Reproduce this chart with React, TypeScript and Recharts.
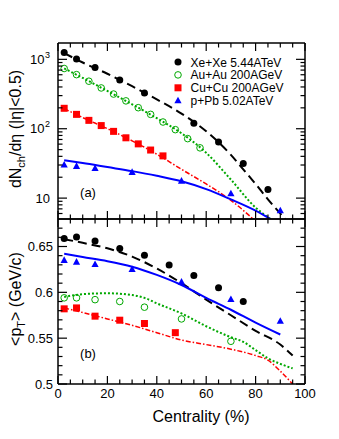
import React from 'react';
import { ComposedChart, Line, Scatter, XAxis, YAxis } from 'recharts';

const FONT = "'Liberation Sans', Arial, Helvetica, sans-serif";
const BLACK = '#000000';
const GREEN = '#00a800';
const RED = '#ff0000';
const BLUE = '#0000ff';

/* ---------------- panel (a): dNch/deta ---------------- */

const xeMultX = [2.5, 7.5, 15, 25, 35, 55, 65, 75, 85];
const xeMultY = [1250, 1010, 765, 505, 327, 120, 64.5, 31.6, 13.3];
const auMultX = [2.5, 7.5, 12.5, 17.5, 22.5, 27.5, 32.5, 37.5, 42.5, 47.5, 52.5, 57.5];
const auMultY = [738, 602, 484, 387, 316, 252, 201, 161, 125, 97, 72, 53];
const cuMultX = [2.5, 7.5, 12.5, 17.5, 22.5, 27.5, 32.5, 37.5, 42.5];
const cuMultY = [197, 161, 132, 111, 91.6, 74, 60.5, 49.3, 40.6];
const ppbMultX = [2.5, 7.5, 15, 30, 50, 70, 90];
const ppbMultY = [30, 28.7, 26.8, 23.5, 17.6, 11.6, 6.6];

const xeMultLineX = [2.5, 10, 20, 30, 40, 50, 60, 70, 75, 80, 85, 92];
const xeMultLineY = [1230, 900, 620, 410, 265, 165, 92, 42, 26, 16, 9.6, 5];
const auMultLineX = [2.5, 10, 20, 30, 40, 50, 60, 70, 80, 86];
const auMultLineY = [740, 540, 350, 225, 142, 86, 45, 18.5, 7.3, 5];
const cuMultLineX = [2.5, 10, 20, 30, 40, 50, 60, 70, 79];
const cuMultLineY = [195, 145, 100, 67, 43, 26, 16, 9.3, 5];
const ppbMultLineX = [2.5, 10, 20, 30, 40, 50, 60, 70, 80, 86];
const ppbMultLineY = [35, 32, 28, 24.5, 21, 17.5, 13.5, 9.6, 6.6, 5];

/* ---------------- panel (b): <pT> ---------------- */

const xePtX = [2.5, 7.5, 15, 25, 35, 45, 55, 65, 75];
const xePtY = [0.6586, 0.6604, 0.656, 0.6477, 0.6404, 0.6298, 0.6185, 0.605, 0.59];
const auPtX = [2.5, 7.5, 15, 25, 35, 50, 70];
const auPtY = [0.594, 0.594, 0.592, 0.59, 0.5838, 0.571, 0.5466];
const cuPtX = [2.5, 7.5, 15, 25, 35, 47.5];
const cuPtY = [0.582, 0.583, 0.574, 0.5696, 0.566, 0.556];
const ppbPtX = [2.5, 7.5, 15, 30, 50, 70, 90];
const ppbPtY = [0.6349, 0.633, 0.6305, 0.625, 0.6112, 0.5922, 0.5685];

const xePtLineX = [2.5, 10, 20, 30, 40, 50, 60, 70, 80, 90, 95];
const xePtLineY = [0.658, 0.654, 0.648, 0.639, 0.626, 0.61, 0.592, 0.575, 0.558, 0.543, 0.531];
const auPtLineX = [2.5, 10, 20, 30, 35, 40, 50, 60, 70, 75, 80, 85, 90, 95];
const auPtLineY = [0.595, 0.598, 0.599, 0.597, 0.594, 0.588, 0.577, 0.563, 0.551, 0.546, 0.537, 0.528, 0.522, 0.517];
const cuPtLineX = [2.5, 10, 20, 30, 40, 50, 60, 70, 80, 85, 90, 95];
const cuPtLineY = [0.583, 0.578, 0.571, 0.564, 0.556, 0.548, 0.543, 0.538, 0.531, 0.526, 0.514, 0.5];
const ppbPtLineX = [2.5, 10, 20, 30, 40, 50, 60, 70, 80, 90];
const ppbPtLineY = [0.642, 0.6385, 0.634, 0.628, 0.619, 0.608, 0.594, 0.581, 0.567, 0.554];

/* ---------------- ticks ---------------- */

const xTicks = [0, 5, 10, 15, 20, 25, 30, 35, 40, 45, 50, 55, 60, 65, 70, 75, 80, 85, 90, 95, 100];
const xLabels = [0, 20, 40, 60, 80, 100];
const logTicks = [6, 7, 8, 9, 10, 20, 30, 40, 50, 60, 70, 80, 90, 100, 200, 300, 400, 500, 600, 700, 800, 900, 1000];
const logLabels = [10, 100, 1000];
const ptTicks = [0.5, 0.51, 0.52, 0.53, 0.54, 0.55, 0.56, 0.57, 0.58, 0.59, 0.6, 0.61, 0.62, 0.63, 0.64, 0.65, 0.66, 0.67];
const ptLabels = [0.5, 0.55, 0.6, 0.65];

const legendItems = [
  { name: 'Xe+Xe 5.44ATeV', color: BLACK, shape: 'dot' },
  { name: 'Au+Au 200AGeV', color: GREEN, shape: 'ring' },
  { name: 'Cu+Cu 200AGeV', color: RED, shape: 'square' },
  { name: 'p+Pb 5.02ATeV', color: BLUE, shape: 'tri' },
];

const pts = (xs: number[], ys: number[]) => xs.map((x, i) => ({ x, y: ys[i] }));
const near = (a: number[], v: number) => a.some((t) => Math.abs(t - v) < 1e-6);

/* ---------------- markers ---------------- */

function Marker({ kind, cx, cy, color }: { kind: string; cx: number; cy: number; color: string }) {
  if (kind === 'ring')
    return <circle cx={cx} cy={cy} r={3.3} fill="none" stroke={color} strokeWidth={1} />;
  if (kind === 'square') return <rect x={cx - 3.5} y={cy - 3.5} width={7} height={7} fill={color} />;
  if (kind === 'tri')
    return <polygon points={`${cx},${cy - 4} ${cx + 3.6},${cy + 2.6} ${cx - 3.6},${cy + 2.6}`} fill={color} />;
  return <circle cx={cx} cy={cy} r={3.5} fill={color} />;
}

const shape = (kind: string, color: string) => (p: any) => <Marker kind={kind} cx={p.cx} cy={p.cy} color={color} />;
const noShape = () => <g />;

/* ---------------- ticks drawn inward ---------------- */

function BottomTick({ x, y, payload, showLabels }: any) {
  const major = near(xLabels, payload.value);
  return (
    <g>
      <line x1={x} x2={x} y1={y} y2={y - (major ? 8 : 4.5)} stroke={BLACK} strokeWidth={1.2} />
      {showLabels && major && (
        <text x={x} y={y + 14} textAnchor="middle" fontSize={13} fontFamily={FONT} fill={BLACK}>
          {payload.value}
        </text>
      )}
    </g>
  );
}

function TopTick({ x, y, payload }: any) {
  const major = near(xLabels, payload.value);
  return <line x1={x} x2={x} y1={y} y2={y + (major ? 8 : 4.5)} stroke={BLACK} strokeWidth={1.2} />;
}

function LogTick({ x, y, payload, side }: any) {
  const major = near(logLabels, payload.value);
  const len = major ? 9 : 4.5;
  const dir = side === 'left' ? 1 : -1;
  const exp = Math.round(Math.log10(payload.value));
  return (
    <g>
      <line x1={x} x2={x + dir * len} y1={y} y2={y} stroke={BLACK} strokeWidth={1.2} />
      {side === 'left' && major && (
        <text x={x - 8} y={y + 4.5} textAnchor="end" fontSize={13} fontFamily={FONT} fill={BLACK}>
          10
          {exp > 1 && (
            <tspan dx={0.5} dy={-6} fontSize={9}>
              {exp}
            </tspan>
          )}
        </text>
      )}
    </g>
  );
}

function PtTick({ x, y, payload, side }: any) {
  const major = near(ptLabels, payload.value);
  const len = major ? 9 : 4.5;
  const dir = side === 'left' ? 1 : -1;
  return (
    <g>
      <line x1={x} x2={x + dir * len} y1={y} y2={y} stroke={BLACK} strokeWidth={1.2} />
      {side === 'left' && major && (
        <text x={x - 5} y={y + 4.5} textAnchor="end" fontSize={13} fontFamily={FONT} fill={BLACK}>
          {payload.value}
        </text>
      )}
    </g>
  );
}

const axisLine = { stroke: BLACK, strokeWidth: 1.5 };

/* one panel: shared axes (mirrored on top and right), curves and points */
function Panel({
  height,
  margin,
  log,
  showXLabels,
  lines,
  points,
}: {
  height: number;
  margin: { top: number; right: number; bottom: number; left: number };
  log: boolean;
  showXLabels: boolean;
  lines: { data: { x: number; y: number }[]; color: string; width: number; dash?: string }[];
  points: { data: { x: number; y: number }[]; color: string; kind: string }[];
}) {
  const yProps = log
    ? { scale: 'log' as const, domain: [5, 1720], ticks: logTicks }
    : { domain: [0.5, 0.68], ticks: ptTicks };
  const Tick = log ? LogTick : PtTick;
  return (
    <ComposedChart width={339} height={height} margin={margin}>
      <XAxis
        dataKey="x"
        type="number"
        domain={[0, 100]}
        allowDataOverflow
        ticks={xTicks}
        interval={0}
        height={1}
        tickSize={0}
        tickMargin={0}
        tickLine={false}
        axisLine={axisLine}
        tick={<BottomTick showLabels={showXLabels} />}
      />
      <XAxis
        xAxisId="top"
        orientation="top"
        dataKey="x"
        type="number"
        domain={[0, 100]}
        allowDataOverflow
        ticks={xTicks}
        interval={0}
        height={1}
        tickSize={0}
        tickMargin={0}
        tickLine={false}
        axisLine={axisLine}
        tick={<TopTick />}
      />
      <YAxis
        dataKey="y"
        type="number"
        {...yProps}
        allowDataOverflow
        interval={0}
        width={58}
        tickSize={0}
        tickMargin={0}
        tickLine={false}
        axisLine={axisLine}
        tick={<Tick side="left" />}
      />
      <YAxis
        yAxisId="right"
        orientation="right"
        dataKey="y"
        type="number"
        {...yProps}
        allowDataOverflow
        interval={0}
        width={34}
        tickSize={0}
        tickMargin={0}
        tickLine={false}
        axisLine={axisLine}
        tick={<Tick side="right" />}
      />
      {/* keeps the mirrored top/right axes bound to data */}
      <Scatter
        xAxisId="top"
        yAxisId="right"
        data={points[0].data}
        shape={noShape}
        isAnimationActive={false}
      />
      {lines.map((l, i) => (
        <Line
          key={'l' + i}
          data={l.data}
          dataKey="y"
          type="monotone"
          stroke={l.color}
          strokeWidth={l.width}
          strokeDasharray={l.dash}
          dot={false}
          isAnimationActive={false}
        />
      ))}
      {points.map((p, i) => (
        <Scatter key={'p' + i} data={p.data} shape={shape(p.kind, p.color)} isAnimationActive={false} />
      ))}
    </ComposedChart>
  );
}

const XE_DASH = '9 5';
const AU_DASH = '2 2';
const CU_DASH = '5 2 1.5 2';

/* ---------------- component ---------------- */

export default function App() {
  return (
    <div style={{ position: 'absolute', left: 0, top: 0, width: 339, height: 439, background: '#fff' }}>
      <div style={{ position: 'absolute', left: 0, top: 0 }}>
        <Panel
          height={230}
          margin={{ top: 42, right: 0, bottom: 10, left: 0 }}
          log
          showXLabels={false}
          lines={[
            { data: pts(xeMultLineX, xeMultLineY), color: BLACK, width: 2, dash: XE_DASH },
            { data: pts(auMultLineX, auMultLineY), color: GREEN, width: 2, dash: AU_DASH },
            { data: pts(cuMultLineX, cuMultLineY), color: RED, width: 1.5, dash: CU_DASH },
            { data: pts(ppbMultLineX, ppbMultLineY), color: BLUE, width: 2 },
          ]}
          points={[
            { data: pts(xeMultX, xeMultY), color: BLACK, kind: 'dot' },
            { data: pts(auMultX, auMultY), color: GREEN, kind: 'ring' },
            { data: pts(cuMultX, cuMultY), color: RED, kind: 'square' },
            { data: pts(ppbMultX, ppbMultY), color: BLUE, kind: 'tri' },
          ]}
        />
      </div>

      <div style={{ position: 'absolute', left: 0, top: 200 }}>
        <Panel
          height={239}
          margin={{ top: 18, right: 0, bottom: 54, left: 0 }}
          log={false}
          showXLabels
          lines={[
            { data: pts(xePtLineX, xePtLineY), color: BLACK, width: 2, dash: XE_DASH },
            { data: pts(auPtLineX, auPtLineY), color: GREEN, width: 2, dash: AU_DASH },
            { data: pts(cuPtLineX, cuPtLineY), color: RED, width: 1.5, dash: CU_DASH },
            { data: pts(ppbPtLineX, ppbPtLineY), color: BLUE, width: 2 },
          ]}
          points={[
            { data: pts(xePtX, xePtY), color: BLACK, kind: 'dot' },
            { data: pts(auPtX, auPtY), color: GREEN, kind: 'ring' },
            { data: pts(cuPtX, cuPtY), color: RED, kind: 'square' },
            { data: pts(ppbPtX, ppbPtY), color: BLUE, kind: 'tri' },
          ]}
        />
      </div>

      {/* legend, axis titles and panel tags */}
      <svg width={339} height={439} style={{ position: 'absolute', left: 0, top: 0, pointerEvents: 'none' }}>
        <g fontFamily={FONT} fill={BLACK}>
          {legendItems.map((it, i) => (
            <g key={it.name}>
              <Marker kind={it.shape} cx={178} cy={62 + i * 12.9} color={it.color} />
              <text x={190.5} y={66.5 + i * 12.9} fontSize={12}>
                {it.name}
              </text>
            </g>
          ))}
          <text transform="translate(21,129) rotate(-90)" textAnchor="middle" fontSize={16}>
            dN<tspan dy={4} fontSize={11}>ch</tspan>
            <tspan dy={-4}>/dη (|η|&lt;0.5)</tspan>
          </text>
          <text transform="translate(21,299) rotate(-90)" textAnchor="middle" fontSize={16}>
            &lt;p<tspan dy={4} fontSize={11}>T</tspan>
            <tspan dy={-4}>&gt; (GeV/c)</tspan>
          </text>
          <text x={201} y={422} textAnchor="middle" fontSize={16}>Centrality (%)</text>
          <text x={88} y={197} textAnchor="middle" fontSize={13}>(a)</text>
          <text x={88} y={358} textAnchor="middle" fontSize={13}>(b)</text>
        </g>
      </svg>
    </div>
  );
}
